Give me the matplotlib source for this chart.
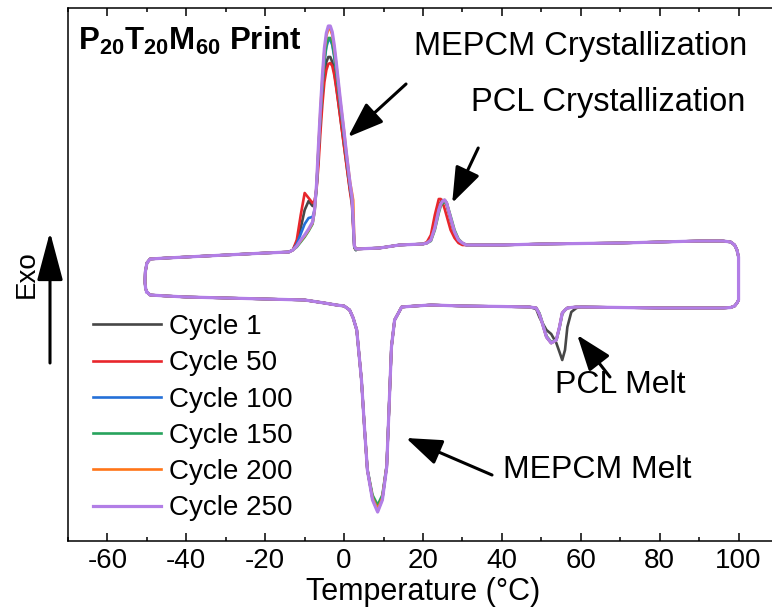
import numpy as np
import matplotlib
matplotlib.use("Agg")
import matplotlib.pyplot as plt
from matplotlib.ticker import MultipleLocator

plt.rcParams["font.family"] = ["Liberation Sans", "DejaVu Sans"]
plt.rcParams["mathtext.fontset"] = "custom"
plt.rcParams["mathtext.rm"] = "Liberation Sans"
plt.rcParams["mathtext.bf"] = "Liberation Sans:bold"
plt.rcParams["axes.unicode_minus"] = False

cycles = ["Cycle 1", "Cycle 50", "Cycle 100", "Cycle 150", "Cycle 200", "Cycle 250"]
colors = ["#474747", "#e8262c", "#2470d8", "#27a35c", "#ff7518", "#b27ee6"]

# ---- heating branch (lower curve), heat flow in a.u. ----
heat_left_T = [-50.0, -49.2, -45, -40, -30, -20, -10, -5, -2, 0]
heat_left_hf = [8, 5, 4, 3, 2, 1, 0, -3, -5, -6]

melt_T = [0, 1.4, 2.3, 3.2, 4.4, 5.2, 5.9, 7.2, 8.5, 9.7, 10.8, 11.5, 12.0, 12.8, 14.6, 18, 22]
melt_hf = [
    [-6, -10, -18, -30, -80, -130, -170, -198, -209, -198, -166, -97, -47, -20, -7, -6, -5],
    [-6, -10, -18, -30, -80, -130, -170, -197, -208, -197, -166, -97, -47, -20, -7, -6, -5],
    [-6, -10, -18, -30, -80, -130, -170, -199, -211, -199, -167, -97, -47, -20, -7, -6, -5],
    [-6, -10, -18, -30, -80, -130, -169, -195, -205, -195, -165, -97, -47, -20, -7, -6, -5],
    [-6, -10, -18, -30, -80, -130, -170, -198, -209, -198, -166, -97, -47, -20, -7, -6, -5],
    [-6, -10, -18, -30, -80, -130, -170, -200, -212, -200, -167, -97, -47, -20, -7, -6, -5],
]

heat_mid_T = [22, 30, 40, 47]
heat_mid_hf = [-5, -6, -6.5, -7]

pcl_melt_T = [47, 48.7, 49.5, 50, 51.3, 52.5, 53.8, 54.6, 55.3, 56, 56.6, 57.6, 58.9, 60]
pcl_melt_hf = [
    [-7, -9, -17, -21, -30, -34, -43, -52, -60, -50, -27, -12, -8, -7],
    [-7, -8, -14, -20, -37, -43, -40, -27, -13, -10, -8, -7.5, -7, -7],
    [-7, -8, -14, -20, -37, -43, -40, -27, -13, -10, -8, -7.5, -7, -7],
    [-7, -8, -13, -19, -36, -42, -40, -28, -14, -10, -8, -7.5, -7, -7],
    [-7, -8, -14, -20, -37, -43, -40, -27, -13, -10, -8, -7.5, -7, -7],
    [-7, -8, -14, -20, -37, -43, -40, -27, -13, -10, -8, -7.5, -7, -7],
]

heat_right_T = [60, 70, 80, 90, 96, 98, 99, 99.6, 100, 100]
heat_right_hf = [-7, -7.5, -8, -8, -8, -7.5, -6, -3, 0, 43]

# ---- cooling branch (upper curve), listed from low to high temperature ----
cool_left_T = [-49.2, -45, -40, -30, -20, -14]
cool_left_hf = [41, 42, 43, 45, 47, 48]

cryst_T = [-13, -12, -11, -10, -9, -8, -7.5, -7, -6.5, -6, -5.5, -5, -4.5, -4, -3.5, -3,
           -2.5, -2, -1.5, -1, -0.5, 0, 0.5, 1, 1.5, 2, 2.3, 2.6, 3]
cryst_hf = [
    [50, 58, 72, 90, 99, 94, 96, 112, 145, 178, 205, 226, 238, 243, 243, 238,
     228, 214, 199, 184, 169, 154, 139, 124, 110, 98, 76, 53, 50],
    [50, 60, 85, 107, 102, 97, 99, 110, 135, 168, 196, 218, 230, 236, 237, 234,
     225, 212, 198, 183, 168, 153, 138, 123, 108, 95, 72, 52, 50],
    [50, 56, 66, 76, 82, 83, 90, 112, 150, 185, 214, 238, 253, 260, 260, 255,
     243, 228, 212, 195, 179, 163, 146, 130, 114, 100, 78, 53, 50],
    [50, 53, 58, 63, 69, 76, 88, 112, 150, 185, 215, 240, 255, 262, 262, 257,
     245, 230, 213, 196, 180, 164, 147, 131, 115, 101, 78, 53, 50],
    [50, 54, 59, 64, 70, 77, 89, 114, 153, 190, 222, 249, 264, 271, 271, 265,
     252, 236, 218, 200, 184, 168, 150, 134, 118, 107, 100, 55, 51],
    [50, 54, 60, 65, 71, 78, 90, 115, 155, 192, 225, 252, 267, 274, 274, 268,
     255, 238, 220, 202, 185, 168, 150, 133, 117, 103, 80, 54, 51],
]

cool_mid_T = [3, 9, 14, 20]
cool_mid_hf = [51, 52, 55, 56]

pcl_cryst_T = [20, 21, 22, 23, 24, 24.5, 25, 25.5, 26, 27, 28, 29, 30, 31, 33]
pcl_cryst_hf = [
    [56, 57, 61, 75, 93, 98, 100, 99, 95, 80, 66, 59, 56, 55, 55],
    [56, 58, 65, 85, 101, 101, 97, 91, 84, 70, 62, 57, 55, 55, 55],
    [56, 57, 60, 72, 90, 96, 99, 100, 97, 82, 68, 60, 57, 55, 55],
    [56, 57, 59, 70, 87, 94, 97, 98, 97, 84, 70, 61, 57, 55, 55],
    [56, 57, 60, 72, 90, 96, 99, 100, 97, 82, 68, 60, 57, 55, 55],
    [56, 57, 60, 72, 90, 96, 99, 100, 97, 82, 68, 60, 57, 55, 55],
]

cool_right_T = [33, 40, 50, 60, 70, 80, 90, 96, 98, 99, 99.6, 100]
cool_right_hf = [55, 55, 56, 56.5, 57, 58, 59, 59, 58, 55, 50, 43]

# isothermal hold at -50 joining the cooling end to the heating start
hold_T = [-49.2, -50.0, -50.4, -50.5, -50.3, -50.0]
hold_hf = [41, 37, 28, 18, 11, 8]

fig = plt.figure(figsize=(7.72, 6.08), dpi=100)
ax = fig.add_axes([68 / 772, 67 / 608, 710 / 772, 533 / 608])

for i, (label, c) in enumerate(zip(cycles, colors)):
    heat_T = np.concatenate([heat_left_T, melt_T, heat_mid_T, pcl_melt_T, heat_right_T])
    heat_hf = np.concatenate([heat_left_hf, melt_hf[i], heat_mid_hf, pcl_melt_hf[i], heat_right_hf])
    cool_T = np.concatenate([cool_left_T, cryst_T, cool_mid_T, pcl_cryst_T, cool_right_T])
    cool_hf = np.concatenate([cool_left_hf, cryst_hf[i], cool_mid_hf, pcl_cryst_hf[i], cool_right_hf])
    T = np.concatenate([heat_T, cool_T[::-1], hold_T])
    hf = np.concatenate([heat_hf, cool_hf[::-1], hold_hf])
    ax.plot(T, hf, color=c, lw=1.9 if i < 5 else 2.3, label=label,
            solid_joinstyle="round")

ax.set_xlim(-70, 110)
ax.set_ylim(-241, 292)
ax.set_yticks([])
ax.xaxis.set_major_locator(MultipleLocator(20))
ax.xaxis.set_minor_locator(MultipleLocator(10))
ax.tick_params(axis="x", which="both", direction="in", top=True, bottom=True,
               labelsize=20, pad=5, width=1.1)
ax.tick_params(axis="x", which="major", length=6)
ax.tick_params(axis="x", which="minor", length=3)
for s in ax.spines.values():
    s.set_linewidth(1.1)
ax.spines["right"].set_visible(False)
ax.set_xlabel("Temperature (°C)", fontsize=22, labelpad=2)

ax.text(-67.5, 250, r"$\mathbf{P_{20}T_{20}M_{60}}$ Print", fontsize=22.5,
        fontweight="bold", ha="left", va="baseline")

arrow = dict(arrowstyle="-|>,head_length=1.1,head_width=0.4", lw=2.2,
             color="k", mutation_scale=20, shrinkA=0, shrinkB=0)
ax.annotate("", xy=(1.0, 163), xytext=(15.7, 216), arrowprops=arrow)
ax.annotate("", xy=(27.4, 97), xytext=(34.0, 152), arrowprops=arrow)
ax.annotate("", xy=(59.1, -35), xytext=(67.4, -77), arrowprops=arrow)
ax.annotate("", xy=(15.7, -138), xytext=(37.5, -175), arrowprops=arrow)

ax.text(17.7, 245, "MEPCM Crystallization", fontsize=23.5, va="baseline")
ax.text(32.2, 189, "PCL Crystallization", fontsize=23.5, va="baseline")
ax.text(53.5, -93, "PCL Melt", fontsize=23, va="baseline")
ax.text(40.3, -178, "MEPCM Melt", fontsize=23, va="baseline")

ax.legend(loc="upper left", bbox_to_anchor=(93 / 772, 1 - 314 / 608),
          bbox_transform=fig.transFigure, frameon=False, fontsize=20,
          handlelength=2.45, handletextpad=0.3, labelspacing=0.37,
          borderpad=0, borderaxespad=0)

# exotherm direction marker
fig.text(27 / 772, 1 - 274 / 608, "Exo", rotation=90, fontsize=20,
         ha="center", va="center")
fig.patches.append(matplotlib.patches.FancyArrowPatch(
    (50 / 772, 1 - 363 / 608), (50 / 772, 1 - 232 / 608),
    transform=fig.transFigure, arrowstyle="-|>,head_length=1.5,head_width=0.4",
    mutation_scale=20, lw=2.2, color="k", shrinkA=0, shrinkB=0))

fig.savefig("out.png", dpi=100)
